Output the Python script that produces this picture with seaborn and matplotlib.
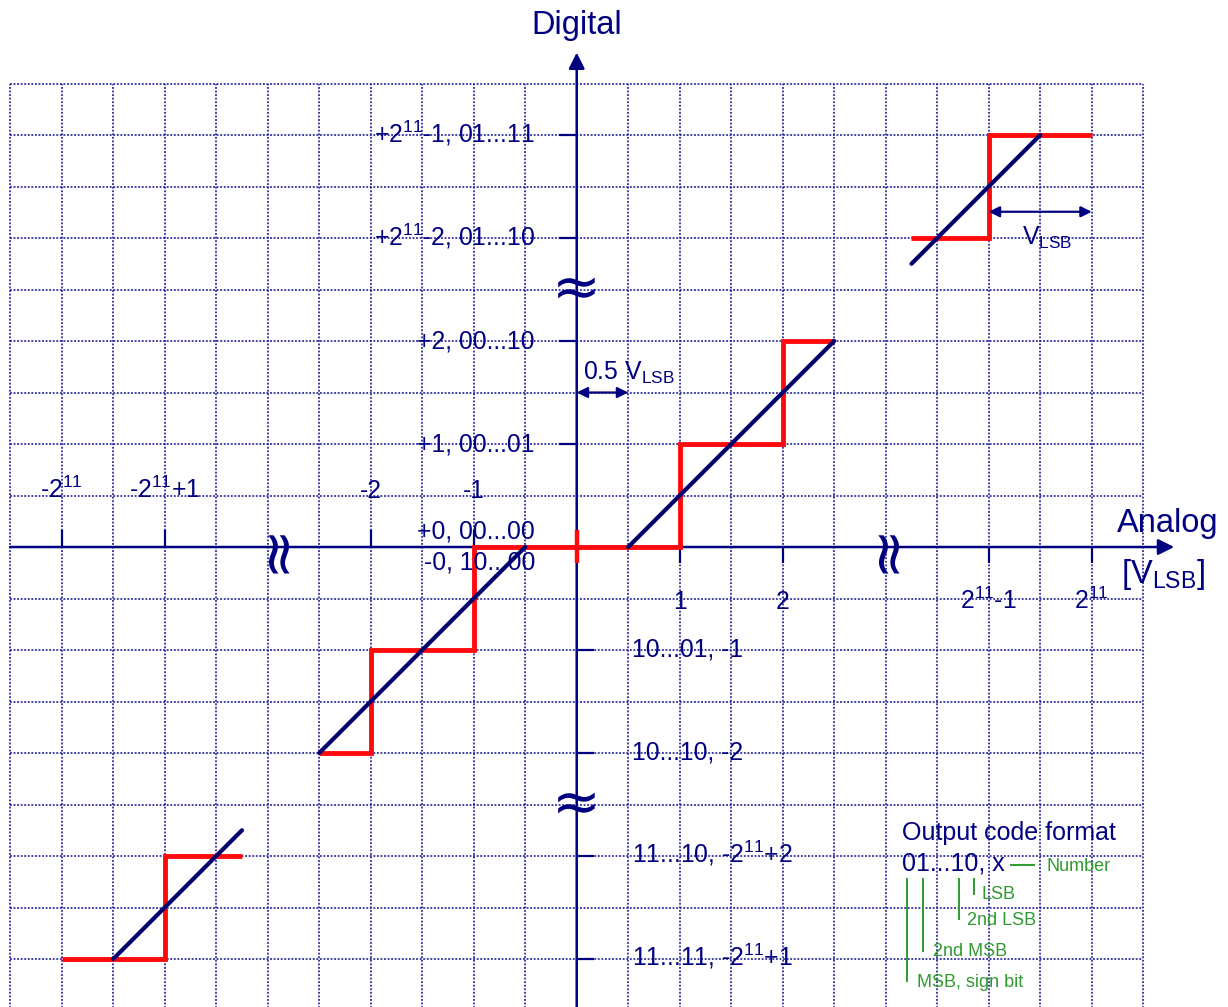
import numpy as np
import pandas as pd
import matplotlib
matplotlib.use("Agg")
import matplotlib.pyplot as plt
import seaborn as sns

sns.set_theme(style="white")
plt.rcParams["font.family"] = ["Liberation Sans", "DejaVu Sans"]
plt.rcParams["mathtext.fontset"] = "custom"
plt.rcParams["mathtext.rm"] = "Liberation Sans"
plt.rcParams["mathtext.it"] = "Liberation Sans:italic"
plt.rcParams["mathtext.bf"] = "Liberation Sans:bold"

NAVY = "#000080"
LINE_NAVY = "#00006e"
RED = "#ff0a0a"
GREEN = "#2f9a2f"
GRID = "#22229a"

# ---- transfer characteristic (x: analog input in LSB, y: output code) ----
# quantised output, one polyline per drawn section of the broken axes
steps_neg_far_x = [-5.0, -4.0, -4.0, -3.25]
steps_neg_far_y = [-4, -4, -3, -3]
steps_mid_x = [-2.5, -2.0, -2.0, -1.0, -1.0, 1.0, 1.0, 2.0, 2.0, 2.5]
steps_mid_y = [-2, -2, -1, -1, 0, 0, 1, 1, 2, 2]
steps_pos_far_x = [3.25, 4.0, 4.0, 5.0]
steps_pos_far_y = [3, 3, 4, 4]

# ideal straight-line characteristic, same sections
ideal_neg_far_x = [-4.5, -3.25]
ideal_neg_far_y = [-4, -2.75]
ideal_neg_x = [-2.5, -0.5]
ideal_neg_y = [-2, 0]
ideal_pos_x = [0.5, 2.5]
ideal_pos_y = [0, 2]
ideal_pos_far_x = [3.25, 4.5]
ideal_pos_far_y = [2.75, 4]

# ---- axis annotations ----
x_ticks_above = [-5, -4, -2, -1]
x_labels_above = ["-$2^{11}$", "-$2^{11}$+1", "-2", "-1"]
x_ticks_below = [1, 2, 4, 5]
x_labels_below = ["1", "2", "$2^{11}$-1", "$2^{11}$"]

y_ticks_left = [4, 3, 2, 1]
y_labels_left = ["+$2^{11}$-1, 01...11", "+$2^{11}$-2, 01...10",
                 "+2, 00...10", "+1, 00...01"]
y_ticks_right = [-1, -2, -3, -4]
y_labels_right = ["10...01, -1", "10...10, -2",
                  "11...10, -$2^{11}$+2", "11...11, -$2^{11}$+1"]


def frame(xs, ys, name):
    return pd.DataFrame({"x": xs, "y": ys, "section": name,
                         "order": range(len(xs))})


steps = pd.concat([
    frame(steps_neg_far_x, steps_neg_far_y, "neg_far"),
    frame(steps_mid_x, steps_mid_y, "mid"),
    frame(steps_pos_far_x, steps_pos_far_y, "pos_far"),
], ignore_index=True)

ideal = pd.concat([
    frame(ideal_neg_far_x, ideal_neg_far_y, "neg_far"),
    frame(ideal_neg_x, ideal_neg_y, "neg"),
    frame(ideal_pos_x, ideal_pos_y, "pos"),
    frame(ideal_pos_far_x, ideal_pos_far_y, "pos_far"),
], ignore_index=True)

fig = plt.figure(figsize=(12.28, 10.07), dpi=100)
ax = fig.add_axes([0, 0, 1, 1])

# dotted background grid, half-LSB pitch
grid_x = np.arange(-5.5, 5.51, 0.5)
grid_y = np.arange(-4.5, 4.51, 0.5)
ax.vlines(grid_x, -4.6, 4.5, colors=GRID, linestyles=(0, (1.0, 0.9)),
          linewidth=1.35, alpha=0.9, zorder=1)
ax.hlines(grid_y, -5.5, 5.5, colors=GRID, linestyles=(0, (1.0, 0.9)),
          linewidth=1.35, alpha=0.9, zorder=1)

# axes with arrow heads
arrow_kw = dict(arrowstyle="-|>", color=NAVY, lw=1.8, mutation_scale=24,
                shrinkA=0, shrinkB=0)
ax.annotate("", xy=(5.80, 0), xytext=(-5.5, 0), arrowprops=arrow_kw, zorder=2)
ax.annotate("", xy=(0, 4.80), xytext=(0, -4.6), arrowprops=arrow_kw, zorder=2)

# tick marks
ax.vlines(x_ticks_above, 0, 0.165, colors=NAVY, lw=1.6, zorder=2)
ax.vlines(x_ticks_below, -0.16, 0, colors=NAVY, lw=1.6, zorder=2)
ax.hlines(y_ticks_left, -0.175, 0, colors=NAVY, lw=1.6, zorder=2)
ax.hlines(y_ticks_right, 0, 0.165, colors=NAVY, lw=1.6, zorder=2)

# transfer characteristic
sns.lineplot(data=ideal, x="x", y="y", units="section", estimator=None,
             sort=False, color=LINE_NAVY, lw=3.0, ax=ax, zorder=4,
             solid_capstyle="round")
sns.lineplot(data=steps, x="x", y="y", units="section", estimator=None,
             sort=False, color=RED, lw=3.5, ax=ax, zorder=3,
             solid_capstyle="butt", solid_joinstyle="miter")
ax.vlines([0], -0.155, 0.165, colors=RED, lw=3.2, zorder=3)
ax.set_xlim(-5.599, 6.323)
ax.set_ylim(-4.466, 5.311)
ax.axis("off")

# axis break marks
for yb in (2.5, -2.5):
    ax.text(0, yb, "\u2248", fontsize=42, color=NAVY, ha="center",
            va="center", family="DejaVu Sans", zorder=5)
for xb in (-2.92, 3.01):
    ax.text(xb, 0, "\u2248", fontsize=44, color=NAVY, ha="center",
            va="center", rotation=90, family="DejaVu Sans", zorder=5)

# axis titles
ax.text(0, 4.98, "Digital", fontsize=23.5, color=NAVY, ha="center",
        va="baseline")
ax.text(5.74, 0.15, "Analog", fontsize=23.5, color=NAVY, ha="center",
        va="baseline")
ax.text(5.69, -0.353, r"[V$_{\mathrm{LSB}}$]", fontsize=23.5, color=NAVY,
        ha="center", va="baseline")

# tick labels
LBL = 17.8
for xv, lab in zip(x_ticks_above, x_labels_above):
    ax.text(xv, 0.476, lab, fontsize=LBL, color=NAVY, ha="center",
            va="baseline")
for xv, lab in zip(x_ticks_below, x_labels_below):
    ax.text(xv, -0.60, lab, fontsize=LBL, color=NAVY, ha="center",
            va="baseline")
for yv, lab in zip(y_ticks_left, y_labels_left):
    ax.text(-0.405, yv - 0.075, lab, fontsize=LBL, color=NAVY, ha="right",
            va="baseline")
for yv, lab in zip(y_ticks_right, y_labels_right):
    ax.text(0.534, yv - 0.065, lab, fontsize=LBL, color=NAVY, ha="left",
            va="baseline")
ax.text(-0.405, 0.084, "+0, 00...00", fontsize=LBL, color=NAVY, ha="right",
        va="baseline")
ax.text(-0.405, -0.223, "-0, 10...00", fontsize=LBL, color=NAVY, ha="right",
        va="baseline")

# LSB size indicators
dbl = dict(arrowstyle="<|-|>", color=NAVY, lw=1.6, mutation_scale=16,
           shrinkA=0, shrinkB=0)
ax.annotate("", xy=(0.5, 1.5), xytext=(0, 1.5), arrowprops=dbl, zorder=5)
ax.text(0.065, 1.628, r"0.5 V$_{\mathrm{LSB}}$", fontsize=LBL, color=NAVY,
        ha="left", va="baseline")
ax.annotate("", xy=(5.0, 3.255), xytext=(4.0, 3.255), arrowprops=dbl,
            zorder=5)
ax.text(4.32, 2.93, r"V$_{\mathrm{LSB}}$", fontsize=LBL, color=NAVY,
        ha="left", va="baseline")

# output code format legend
ax.text(3.156, -2.845, "Output code format", fontsize=18, color=NAVY,
        ha="left", va="baseline")
ax.text(3.156, -3.136, "01...10, x", fontsize=18, color=NAVY, ha="left",
        va="baseline")
ax.hlines([-3.087], 4.207, 4.450, colors=GREEN, lw=1.4)
ax.vlines([3.21, 3.365, 3.712, 3.857], -3.214,
          [-4.223, -3.929, -3.621, -3.379], colors=GREEN, lw=1.4)
for xt, yt, lab in [(4.563, -3.143, "Number"), (3.932, -3.42, "LSB"),
                    (3.786, -3.67, "2nd LSB"), (3.456, -3.968, "2nd MSB"),
                    (3.307, -4.269, "MSB, sign bit")]:
    ax.text(xt, yt, lab, fontsize=13, color=GREEN, ha="left", va="baseline")

fig.savefig("out.png", dpi=100, facecolor="white")
